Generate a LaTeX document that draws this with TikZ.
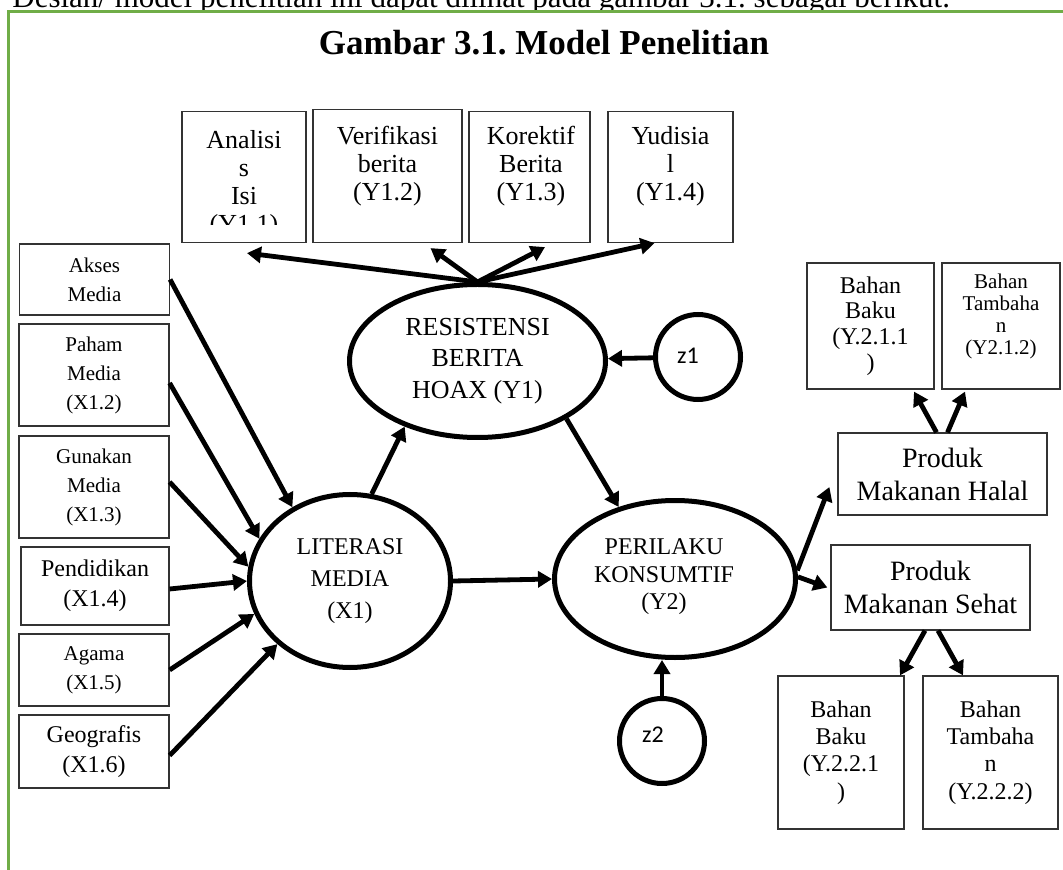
\documentclass[tikz,border=0pt]{standalone}
\usepackage{fontspec}
\setmainfont{Liberation Serif}
\newfontfamily\zfont{Carlito}
\usetikzlibrary{arrows.meta,positioning,shapes.geometric}
\definecolor{framegreen}{RGB}{112,173,71}
\frenchspacing

\begin{document}
\begin{tikzpicture}[x=0.5pt,y=-0.5pt,
    box/.style={draw=black!80,line width=0.6pt,inner sep=0pt,align=center},
    lv/.style={draw,ellipse,line width=2.5pt,inner sep=0pt,align=center},
    err/.style={draw,circle,line width=2.5pt,minimum size=42.5pt,inner sep=0pt},
    ztxt/.style={inner sep=0pt,font=\zfont\fontsize{12}{14}\selectfont},
    arr/.style={line width=2.4pt,-{Triangle[length=7pt,width=8pt]}},
    smalltxt/.style={font=\fontsize{10.5}{14.5}\selectfont},
    midtxt/.style={font=\fontsize{12}{15}\selectfont},
    ytxt/.style={anchor=north,inner sep=0pt,align=center,font=\fontsize{13}{14}\selectfont}]
  \useasboundingbox (0,0) rectangle (1063,870);
  \clip (0,0) rectangle (1063,870);
  \node[anchor=base west,inner sep=0pt,font=\fontsize{15.5}{18}\selectfont] (intro) at (12,8)
    {Desian/ model penelitian ini dapat dilihat pada gambar 3.1. sebagai berikut.};
  \fill[white] (8,12) rectangle (1063,870);
  \draw[framegreen,line width=1.5pt] (1063,12) -- (8.5,12) -- (8.5,870);
  \node[anchor=base,inner sep=0pt,font=\bfseries\fontsize{17.5}{20}\selectfont] (title) at (544,55)
    {Gambar 3.1. Model Penelitian};

  \node[box,minimum width=62pt,minimum height=65.5pt] (y11) at (244,177) {};
  \node[box,minimum width=74.5pt,minimum height=66.5pt] (y12) at (387.5,176) {};
  \node[box,minimum width=60.5pt,minimum height=65.5pt] (y13) at (529.5,177) {};
  \node[box,minimum width=62.5pt,minimum height=65.5pt] (y14) at (670.5,177) {};
  \begin{scope}
    \clip (y11.north west) rectangle ([yshift=9.25pt]y11.south east);
    \node[ytxt] (y11t) at (244,130) {Analisi\\s\\Isi\\(Y1.1)};
  \end{scope}
  \node[ytxt] (y12t) at (387.5,126) {Verifikasi\\berita\\(Y1.2)};
  \node[ytxt] (y13t) at (531,126) {Korektif\\Berita\\(Y1.3)};
  \node[ytxt] (y14t) at (670.5,126) {Yudisia\\l\\(Y1.4)};

  \node[box,smalltxt,minimum width=75pt,minimum height=35.5pt] (akses) at (94.5,279.5) {Akses\\Media};
  \node[box,smalltxt,minimum width=75pt,minimum height=51pt] (paham) at (94,375) {Paham\\Media\\(X1.2)};
  \node[box,smalltxt,minimum width=75pt,minimum height=51pt] (gunakan) at (94,487) {Gunakan\\Media\\(X1.3)};
  \node[box,midtxt,minimum width=74pt,minimum height=39pt] (pendidikan) at (95,586) {Pendidikan\\(X1.4)};
  \node[box,smalltxt,minimum width=75pt,minimum height=36pt] (agama) at (94,670) {Agama\\(X1.5)};
  \node[box,midtxt,minimum width=75pt,minimum height=36.5pt] (geografis) at (94,751.5) {Geografis\\(X1.6)};

  \node[lv,minimum width=128pt,minimum height=76.5pt,font=\fontsize{13}{15.8}\selectfont] (y1) at (477.5,361)
    {RESISTENSI\\BERITA\\HOAX (Y1)};
  \node[lv,minimum width=100.5pt,minimum height=86.5pt,font=\fontsize{12}{16}\selectfont] (x1) at (350,581)
    {LITERASI\\MEDIA\\(X1)};
  \node[lv,minimum width=120.5pt,minimum height=78.5pt] (y2) at (675,579) {};
  \node[inner sep=0pt,align=center,font=\fontsize{12}{13.8}\selectfont] (y2t) at (664,577)
    {PERILAKU\\KONSUMTIF\\(Y2)};
  \node[err] (z1) at (698,357) {};
  \node[ztxt] (z1t) at (688,356) {z1};
  \node[err] (z2) at (662,741) {};
  \node[ztxt] (z2t) at (653,735) {z2};

  \node[box,font=\fontsize{12}{12.8}\selectfont,minimum width=63.5pt,minimum height=63pt] (baku1) at (870.5,326)
    {Bahan\\Baku\\(Y.2.1.1\\)};
  \node[box,minimum width=59pt,minimum height=63pt] (tamb1) at (1001,326) {};
  \node[inner sep=0pt,align=center,font=\fontsize{10.5}{11}\selectfont] (tamb1t) at (1001,316)
    {Bahan\\Tambaha\\n\\(Y2.1.2)};
  \node[box,font=\fontsize{14}{16.5}\selectfont,minimum width=104.5pt,minimum height=41pt] (halal) at (942.5,474)
    {Produk\\Makanan Halal};
  \node[box,font=\fontsize{14}{16.5}\selectfont,minimum width=99.5pt,minimum height=42.5pt] (sehat) at (930.5,587.5)
    {Produk\\Makanan Sehat};
  \node[box,font=\fontsize{12}{13.7}\selectfont,minimum width=63pt,minimum height=76.5pt] (baku2) at (841,752.5)
    {Bahan\\Baku\\(Y.2.2.1\\)};
  \node[box,font=\fontsize{12}{13.7}\selectfont,minimum width=67.5pt,minimum height=76.5pt] (tamb2) at (990.5,752.5)
    {Bahan\\Tambaha\\n\\(Y.2.2.2)};

  \draw[arr] (akses.east) -- (x1.128);
  \draw[arr] ([yshift=-4pt]paham.east) -- (x1.155);
  \draw[arr] ([yshift=2.5pt]gunakan.east) -- (x1.172);
  \draw[arr] ([yshift=-1.5pt]pendidikan.east) -- (x1.180);
  \draw[arr] (agama.east) -- (x1.199);
  \draw[arr] ([yshift=-2pt]geografis.east) -- (x1.221);

  \draw[arr] (x1.76) -- (y1.222);
  \draw[arr] (x1.east) -- (y2.west);
  \draw[arr] (y1.-33) -- (y2.128);
  \draw[arr] (z1) -- (y1);
  \draw[arr] (z2) -- (z2 |- y2.south);

  \draw[arr] (y1.north) -- ([shift={(3,10)}]y11.south);
  \draw[arr] (y1.north) -- ([shift={(43,5)}]y12.south);
  \draw[arr] (y1.north) -- ([shift={(15.5,4)}]y13.south);
  \draw[arr] (y1.north) -- ([shift={(-16,0)}]y14.south);

  \draw[arr] (y2.4) -- ([shift={(-8,13)}]halal.west);
  \draw[arr] (y2.1) -- ([xshift=-1.5pt]sehat.west);
  \draw[arr] ([xshift=-3pt]halal.north) -- ([shift={(43.5,2)}]baku1.south);
  \draw[arr] ([xshift=2.5pt]halal.north) -- ([shift={(-36,2)}]tamb1.south);
  \draw[arr] ([xshift=-2.75pt]sehat.south) -- ([shift={(59,0)}]baku2.north);
  \draw[arr] ([xshift=3.75pt]sehat.south) -- ([shift={(-27.5,0)}]tamb2.north);
\end{tikzpicture}
\end{document}
